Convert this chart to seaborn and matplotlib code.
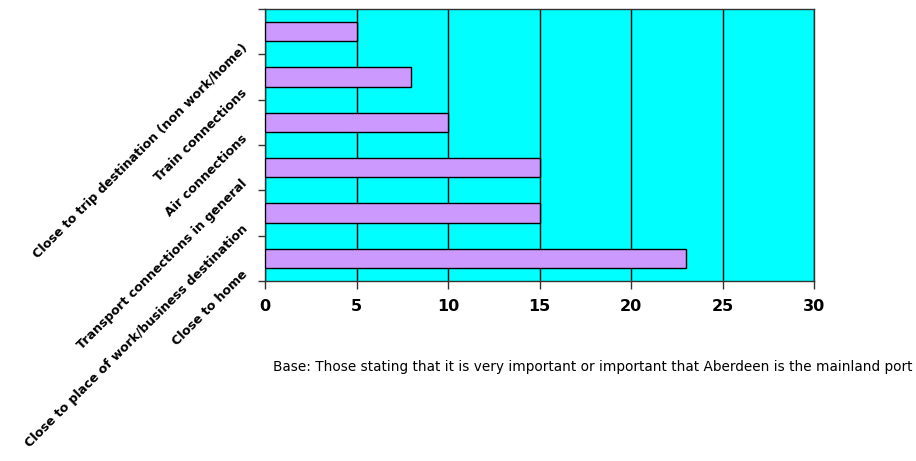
import numpy as np
import pandas as pd
import matplotlib
matplotlib.use('Agg')
import matplotlib.pyplot as plt
from matplotlib.transforms import ScaledTranslation
import seaborn as sns

# reasons for choosing Aberdeen as mainland port
reasons = ['Close to trip destination (non work/home)', 'Train connections', 'Air connections',
           'Transport connections in general', 'Close to place of work/business destination',
           'Close to home']
counts = [5, 8, 10, 15, 15, 23]
x_ticks = [0, 5, 10, 15, 20, 25, 30]
base_note = 'Base: Those stating that it is very important or important that Aberdeen is the mainland port'

sns.set_style('white')
plt.rcParams['font.family'] = ['DejaVu Sans']
plt.rcParams['text.color'] = 'black'

df = pd.DataFrame({'reason': reasons, 'count': counts})

fig = plt.figure(figsize=(9.16, 4.61), dpi=100)
ax = fig.add_axes([265 / 916, 1 - 281 / 461, 549 / 916, 272 / 461])
ax.set_facecolor('#00FFFF')

sns.barplot(data=df, x='count', y='reason', orient='h', color='#CC99FF', saturation=1,
            width=0.42, edgecolor='black', linewidth=1, ax=ax, zorder=3)

ax.set_xlim(0, 30)
ax.set_ylim(len(reasons) - 0.5, -0.5)
ax.set_xticks(x_ticks)
ax.set_xticklabels([str(t) for t in x_ticks], fontsize=11.5, fontweight='bold', color='black')
ax.tick_params(axis='x', length=6, width=1, color='#333333', pad=7, bottom=True)
ax.xaxis.grid(True, color='black', linewidth=1, zorder=1)
ax.set_axisbelow(True)

# tick marks between categories, labels at category centres
ax.set_yticks(np.arange(-0.5, len(reasons)), minor=True)
ax.tick_params(axis='y', which='minor', length=5, width=1, color='#333333', left=True)
ax.tick_params(axis='y', which='major', length=0, pad=14)
offset = ScaledTranslation(0, -0.14, fig.dpi_scale_trans)
for lbl in ax.get_yticklabels():
    lbl.set_rotation(45)
    lbl.set_ha('right')
    lbl.set_va('center')
    lbl.set_rotation_mode('anchor')
    lbl.set_fontsize(9.1)
    lbl.set_fontweight('bold')
    lbl.set_color('black')
    lbl.set_transform(lbl.get_transform() + offset)

ax.set_xlabel('')
ax.set_ylabel('')
for side in ['left', 'right', 'top', 'bottom']:
    ax.spines[side].set_visible(True)
    ax.spines[side].set_color('#333333')
    ax.spines[side].set_linewidth(1)

fig.text(273 / 916, 1 - 367 / 461, base_note, ha='left', va='center', fontsize=9.8, color='black')

fig.savefig('out.png', dpi=100)
